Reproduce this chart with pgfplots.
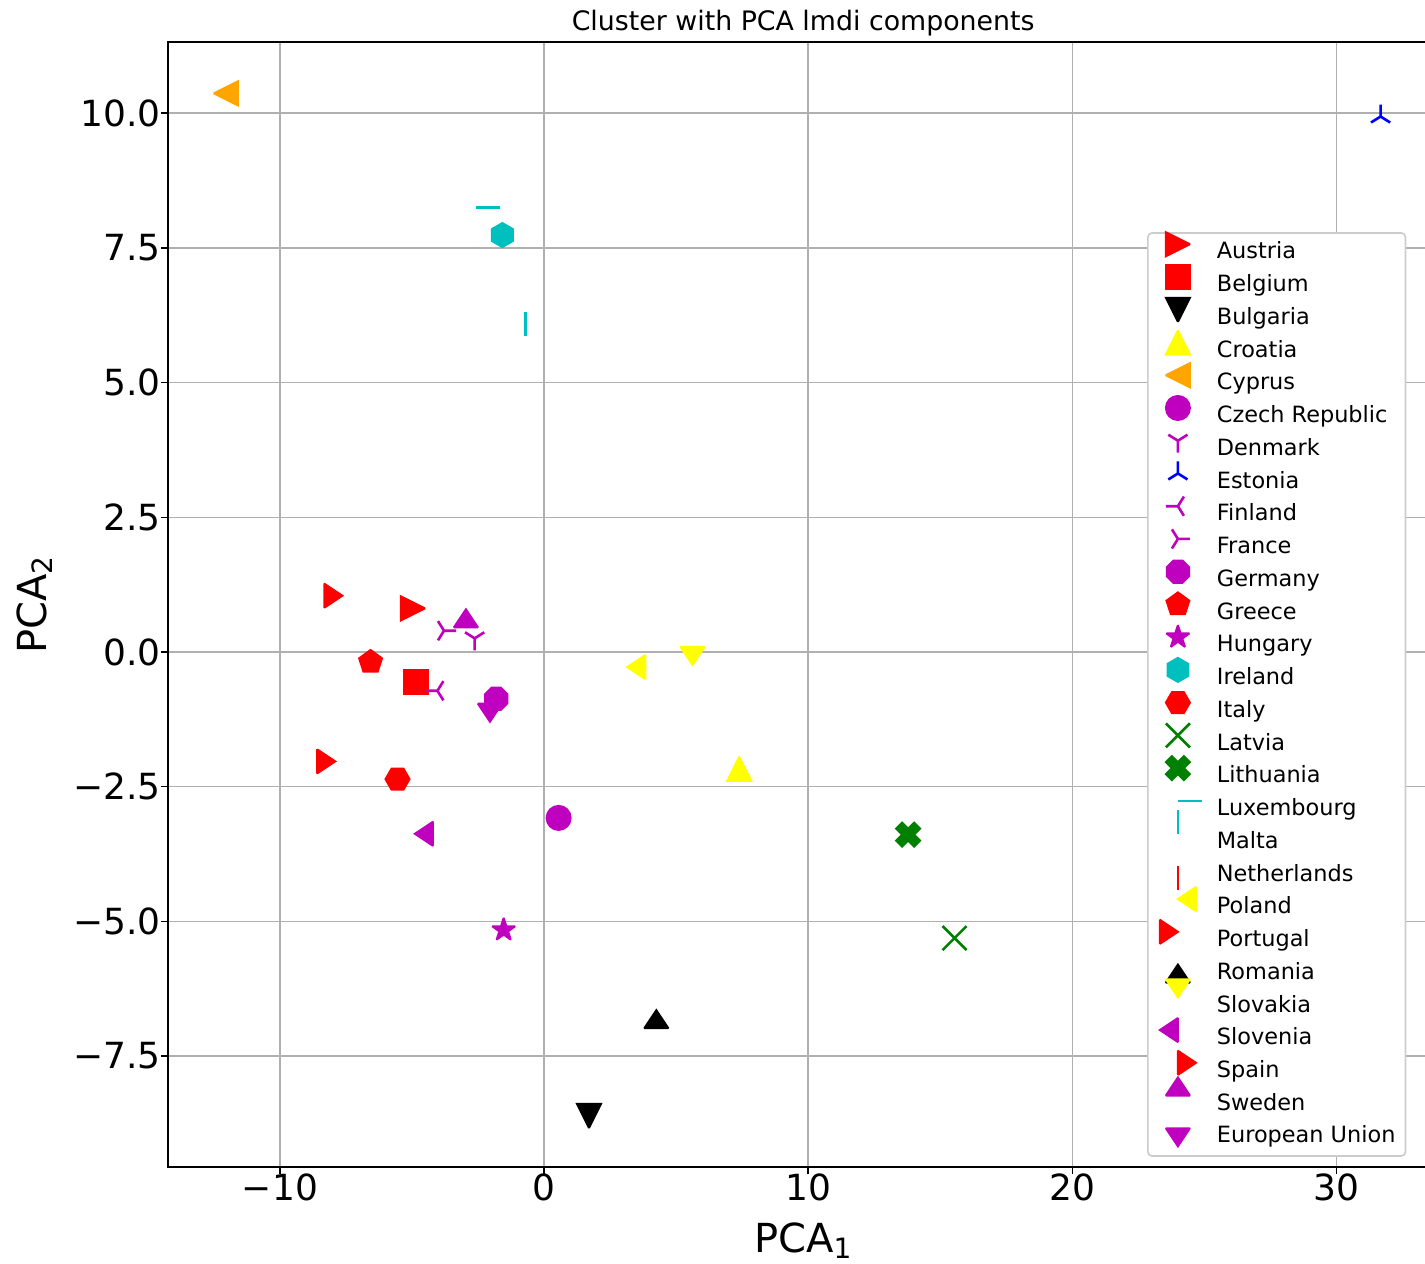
\documentclass[border=0pt]{standalone}
\usepackage{fontspec}
\setmainfont{DejaVu Sans}
\usepackage{pgfplots}
\pgfplotsset{compat=1.18}

\definecolor{mplm}{rgb}{0.75,0,0.75}
\definecolor{mplc}{rgb}{0,0.75,0.75}
\definecolor{mplg}{rgb}{0,0.5,0}
\definecolor{mplorange}{HTML}{FFA500}
\definecolor{mplyellow}{HTML}{FFFF00}
\definecolor{gridgray}{HTML}{B0B0B0}
\definecolor{legframe}{HTML}{CCCCCC}

\newcommand{\pp}[2]{\pgfqpoint{#1\pgfplotmarksize}{#2\pgfplotmarksize}}
\newcommand{\pl}[2]{\pgfpointpolar{#1}{#2\pgfplotmarksize}}

% matplotlib-like marks (unit = half the marker size)
\pgfdeclareplotmark{Mtri}{\pgfpathmoveto{\pp{0}{1}}\pgfpathlineto{\pp{-1}{-1}}\pgfpathlineto{\pp{1}{-1}}\pgfpathclose\pgfusepathqfillstroke}
\pgfdeclareplotmark{Msq}{\pgfpathmoveto{\pp{-1}{-1}}\pgfpathlineto{\pp{1}{-1}}\pgfpathlineto{\pp{1}{1}}\pgfpathlineto{\pp{-1}{1}}\pgfpathclose\pgfusepathqfillstroke}
\pgfdeclareplotmark{Moct}{\pgfpathmoveto{\pl{22.5}{1}}\pgfpathlineto{\pl{67.5}{1}}\pgfpathlineto{\pl{112.5}{1}}\pgfpathlineto{\pl{157.5}{1}}\pgfpathlineto{\pl{202.5}{1}}\pgfpathlineto{\pl{247.5}{1}}\pgfpathlineto{\pl{292.5}{1}}\pgfpathlineto{\pl{337.5}{1}}\pgfpathclose\pgfusepathqfillstroke}
\pgfdeclareplotmark{Mpent}{\pgfpathmoveto{\pl{90}{1}}\pgfpathlineto{\pl{162}{1}}\pgfpathlineto{\pl{234}{1}}\pgfpathlineto{\pl{306}{1}}\pgfpathlineto{\pl{18}{1}}\pgfpathclose\pgfusepathqfillstroke}
\pgfdeclareplotmark{Mstar}{\pgfpathmoveto{\pl{90}{1}}\pgfpathlineto{\pl{126}{0.381966}}\pgfpathlineto{\pl{162}{1}}\pgfpathlineto{\pl{198}{0.381966}}\pgfpathlineto{\pl{234}{1}}\pgfpathlineto{\pl{270}{0.381966}}\pgfpathlineto{\pl{306}{1}}\pgfpathlineto{\pl{342}{0.381966}}\pgfpathlineto{\pl{18}{1}}\pgfpathlineto{\pl{54}{0.381966}}\pgfpathclose\pgfusepathqfillstroke}
\pgfdeclareplotmark{Mhex}{\pgfpathmoveto{\pl{90}{1}}\pgfpathlineto{\pl{150}{1}}\pgfpathlineto{\pl{210}{1}}\pgfpathlineto{\pl{270}{1}}\pgfpathlineto{\pl{330}{1}}\pgfpathlineto{\pl{30}{1}}\pgfpathclose\pgfusepathqfillstroke}
\pgfdeclareplotmark{Mhexb}{\pgfpathmoveto{\pl{0}{1}}\pgfpathlineto{\pl{60}{1}}\pgfpathlineto{\pl{120}{1}}\pgfpathlineto{\pl{180}{1}}\pgfpathlineto{\pl{240}{1}}\pgfpathlineto{\pl{300}{1}}\pgfpathclose\pgfusepathqfillstroke}
\pgfdeclareplotmark{Mx}{\pgfpathmoveto{\pp{-1}{-1}}\pgfpathlineto{\pp{1}{1}}\pgfpathmoveto{\pp{-1}{1}}\pgfpathlineto{\pp{1}{-1}}\pgfusepathqstroke}
\pgfdeclareplotmark{MX}{\pgfpathmoveto{\pp{-0.5}{-1}}\pgfpathlineto{\pp{0}{-0.5}}\pgfpathlineto{\pp{0.5}{-1}}\pgfpathlineto{\pp{1}{-0.5}}\pgfpathlineto{\pp{0.5}{0}}\pgfpathlineto{\pp{1}{0.5}}\pgfpathlineto{\pp{0.5}{1}}\pgfpathlineto{\pp{0}{0.5}}\pgfpathlineto{\pp{-0.5}{1}}\pgfpathlineto{\pp{-1}{0.5}}\pgfpathlineto{\pp{-0.5}{0}}\pgfpathlineto{\pp{-1}{-0.5}}\pgfpathclose\pgfusepathqfillstroke}
\pgfdeclareplotmark{Mtri1}{\pgfpathmoveto{\pp{0}{0}}\pgfpathlineto{\pp{0}{-1}}\pgfpathmoveto{\pp{0}{0}}\pgfpathlineto{\pp{0.8}{0.5}}\pgfpathmoveto{\pp{0}{0}}\pgfpathlineto{\pp{-0.8}{0.5}}\pgfusepathqstroke}
\pgfdeclareplotmark{Mtick}{\pgfpathmoveto{\pp{0}{0}}\pgfpathlineto{\pp{2}{0}}\pgfusepathqstroke}
\pgfdeclareplotmark{Mcaret}{\pgfpathmoveto{\pp{-1}{1.5}}\pgfpathlineto{\pp{0}{0}}\pgfpathlineto{\pp{1}{1.5}}\pgfpathclose\pgfusepathqfillstroke}
\pgfdeclareplotmark{Mcaretb}{\pgfpathmoveto{\pp{-1}{0}}\pgfpathlineto{\pp{0}{-1.5}}\pgfpathlineto{\pp{1}{0}}\pgfpathclose\pgfusepathqfillstroke}

\pgfplotsset{
  fm/.style 2 args={only marks, mark size=6pt, color=#1, mark options={solid, line width=1pt, miter limit=2, rotate=#2}},
  lm/.style 2 args={only marks, mark size=6pt, color=#1, mark options={solid, line width=1.3pt, rotate=#2}},
}

\begin{document}
\begin{tikzpicture}
\begin{axis}[
  name=ax,
  scale only axis,
  width=635.2pt, height=562.4pt,
  xmin=-14.24, xmax=33.86, ymin=-9.56, ymax=11.32,
  xtick={-10,0,10,20,30}, xticklabels={−10,0,10,20,30},
  ytick={-7.5,-5,-2.5,0,2.5,5,7.5,10},
  yticklabels={−7.5,−5.0,−2.5,0.0,2.5,5.0,7.5,10.0},
  tick pos=left, tick align=outside,
  major tick length=3.5pt,
  every tick/.style={black, line width=0.8pt},
  axis line style={line width=0.8pt},
  grid=major, major grid style={gridgray, line width=0.8pt},
  tick label style={font=\fontsize{18}{18}\selectfont},
  xticklabel style={anchor=north, inner sep=0pt, text height=13.1pt, text depth=0pt},
  yticklabel style={anchor=east, inner sep=0pt},
  title={Cluster with PCA lmdi components},
  title style={at={(axis description cs:0.5,1)}, anchor=base, font=\fontsize{13.4}{15}\selectfont},
  xlabel={PCA\textsubscript{1}},
  ylabel={PCA\textsubscript{2}},
  every axis x label/.style={at={(axis description cs:0.5,-0.0757)}, anchor=base, font=\fontsize{20}{24}\selectfont},
  every axis y label/.style={at={(axis description cs:-0.0960,0.5)}, rotate=90, anchor=base, font=\fontsize{20}{24}\selectfont},
  legend cell align=left,
  legend image code/.code={
    \draw[#1, overlay] plot coordinates {(10pt,4.1pt)};
    \path[draw=none, fill=none] (0pt,0pt) rectangle (20pt,0pt);
  },
  legend style={
    at={(rel axis cs:0.7707,0.8311)}, anchor=north west,
    draw=legframe, line width=0.8pt, rounded corners=2pt, fill=white,
    font=\fontsize{11.2}{13}\selectfont,
    nodes={inner sep=0pt, text height=10pt, text depth=3.5pt},
    row sep=2.87pt, column sep=9.5pt,
    inner xsep=5pt, inner ysep=3pt,
  },
]
\addplot[fm={red}{-90}, mark=Mtri] coordinates {(-4.97,0.81)};
\addlegendentry{Austria}
\addplot[fm={red}{0}, mark=Msq] coordinates {(-4.85,-0.55)};
\addlegendentry{Belgium}
\addplot[fm={black}{180}, mark=Mtri] coordinates {(1.70,-8.61)};
\addlegendentry{Bulgaria}
\addplot[fm={mplyellow}{0}, mark=Mtri] coordinates {(7.39,-2.17)};
\addlegendentry{Croatia}
\addplot[fm={mplorange}{90}, mark=Mtri] coordinates {(-12.05,10.37)};
\addlegendentry{Cyprus}
\addplot[fm={mplm}{0}, mark=*] coordinates {(0.55,-3.08)};
\addlegendentry{Czech Republic}
\addplot[lm={mplm}{0}, mark=Mtri1] coordinates {(-2.63,0.254)};
\addlegendentry{Denmark}
\addplot[lm={blue}{180}, mark=Mtri1] coordinates {(31.67,9.94)};
\addlegendentry{Estonia}
\addplot[lm={mplm}{-90}, mark=Mtri1] coordinates {(-4.04,-0.72)};
\addlegendentry{Finland}
\addplot[lm={mplm}{90}, mark=Mtri1] coordinates {(-3.79,0.395)};
\addlegendentry{France}
\addplot[fm={mplm}{0}, mark=Moct] coordinates {(-1.81,-0.867)};
\addlegendentry{Germany}
\addplot[fm={red}{0}, mark=Mpent] coordinates {(-6.57,-0.186)};
\addlegendentry{Greece}
\addplot[fm={mplm}{0}, mark=Mstar] coordinates {(-1.53,-5.16)};
\addlegendentry{Hungary}
\addplot[fm={mplc}{0}, mark=Mhex] coordinates {(-1.58,7.74)};
\addlegendentry{Ireland}
\addplot[fm={red}{0}, mark=Mhexb] coordinates {(-5.55,-2.36)};
\addlegendentry{Italy}
\addplot[lm={mplg}{0}, mark=Mx] coordinates {(15.54,-5.31)};
\addlegendentry{Latvia}
\addplot[fm={mplg}{0}, mark=MX] coordinates {(13.78,-3.39)};
\addlegendentry{Lithuania}
\addplot[lm={mplc}{0}, mark=Mtick] coordinates {(-2.59,8.25)};
\addlegendentry{Luxembourg}
\addplot[lm={mplc}{90}, mark=Mtick] coordinates {(-0.70,5.87)};
\addlegendentry{Malta}
\addlegendimage{lm={red}{-90}, mark=Mtick}
\addlegendentry{Netherlands}
\addplot[fm={mplyellow}{-90}, mark=Mcaret] coordinates {(3.15,-0.28)};
\addlegendentry{Poland}
\addplot[fm={red}{90}, mark=Mcaret] coordinates {(-7.64,1.045)};
\addlegendentry{Portugal}
\addplot[fm={black}{180}, mark=Mcaret] coordinates {(4.25,-6.65)};
\addlegendentry{Romania}
\addplot[fm={mplyellow}{0}, mark=Mcaret] coordinates {(5.62,-0.24)};
\addlegendentry{Slovakia}
\addplot[fm={mplm}{-90}, mark=Mcaretb] coordinates {(-4.21,-3.375)};
\addlegendentry{Slovenia}
\addplot[fm={red}{90}, mark=Mcaretb] coordinates {(-8.59,-2.03)};
\addlegendentry{Spain}
\addplot[fm={mplm}{180}, mark=Mcaretb] coordinates {(-2.96,0.458)};
\addlegendentry{Sweden}
\addplot[fm={mplm}{0}, mark=Mcaretb] coordinates {(-2.05,-0.96)};
\addlegendentry{European Union}
\end{axis}
\pgfresetboundingbox
\path (ax.south west) ++(-84pt,-48.5pt) rectangle ++(712.5pt,632pt);
\end{tikzpicture}
\end{document}
